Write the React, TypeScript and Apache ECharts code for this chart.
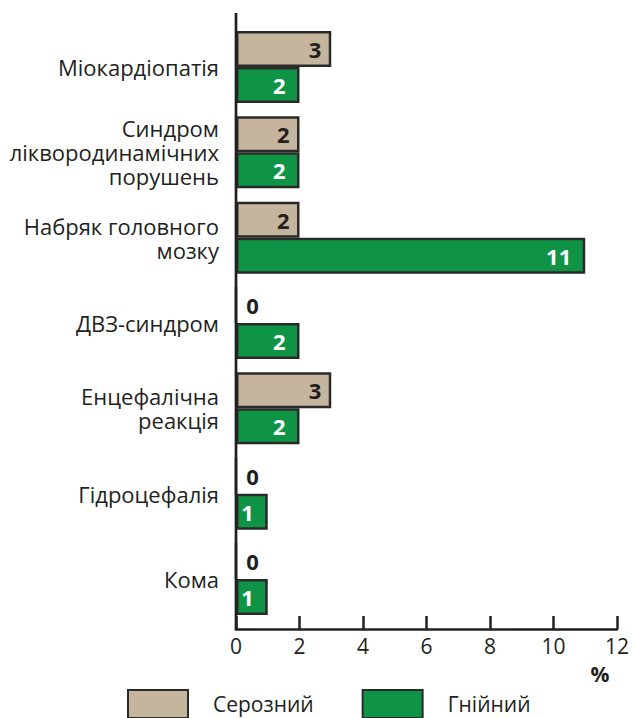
import React, { useEffect, useRef } from "react";
import * as echarts from "echarts";

const categories = [
  "Міокардіопатія",
  "Синдром\nліквородинамічних\nпорушень",
  "Набряк головного\nмозку",
  "ДВЗ-синдром",
  "Енцефалічна\nреакція",
  "Гідроцефалія",
  "Кома",
];
const serousValues = [3, 2, 2, 0, 3, 0, 0];
const purulentValues = [2, 2, 11, 2, 2, 1, 1];
const seriesNames = ["Серозний", "Гнійний"];
const xTicks = { min: 0, max: 12, interval: 2 };

const INK = "#231f20";
const TAN = "#c5b59c";
const GREEN = "#0f9446";
const FONT = "'Open Sans', 'Noto Sans', sans-serif";

export default function App() {
  const ref = useRef<HTMLDivElement>(null);

  useEffect(() => {
    if (!ref.current) return;
    const chart = echarts.init(ref.current, undefined, { renderer: "svg" });

    const border = { borderColor: "#2a2a2a", borderWidth: 2.5 };

    chart.setOption({
      animation: false,
      textStyle: { fontFamily: FONT },
      grid: { left: 236, right: 14, top: 24.3, bottom: 96.3, containLabel: false },
      legend: {
        left: 127,
        top: 689,
        padding: 0,
        itemWidth: 60,
        itemHeight: 28,
        itemGap: 48,
        icon: "rect",
        data: seriesNames,
        itemStyle: { borderColor: "#2a2a2a", borderWidth: 2 },
        textStyle: { fontSize: 21, lineHeight: 22, color: INK, fontFamily: FONT, padding: [0, 0, 0, 20] },
      },
      xAxis: {
        type: "value",
        min: xTicks.min,
        max: xTicks.max,
        interval: xTicks.interval,
        offset: 7.3,
        axisLine: { show: true, lineStyle: { color: INK, width: 2.5 } },
        axisTick: { show: true, inside: true, length: 13, lineStyle: { color: INK, width: 2.5 } },
        axisLabel: { fontSize: 21, color: INK, margin: 6, fontFamily: FONT },
        splitLine: { show: false },
      },
      yAxis: {
        type: "category",
        inverse: true,
        data: categories,
        axisLine: { show: false },
        axisTick: { show: false },
        axisLabel: {
          fontSize: 22,
          lineHeight: 24,
          color: INK,
          margin: 17,
          align: "right",
          fontFamily: FONT,
        },
      },
      series: [
        {
          name: seriesNames[0],
          type: "bar",
          barWidth: 36,
          barGap: "0%",
          itemStyle: { color: TAN, ...border },
          label: {
            show: true,
            position: "insideRight",
            distance: 10,
            fontSize: 22,
            fontWeight: "bold",
            color: INK,
            fontFamily: FONT,
          },
          data: serousValues.map((v) =>
            v === 0
              ? { value: v, label: { position: "right", distance: 9 } }
              : v
          ),
        },
        {
          name: seriesNames[1],
          type: "bar",
          barWidth: 36,
          barGap: "0%",
          itemStyle: { color: GREEN, ...border },
          label: {
            show: true,
            position: "insideRight",
            distance: 14,
            fontSize: 22,
            fontWeight: "bold",
            color: "#ffffff",
            fontFamily: FONT,
          },
          data: purulentValues,
        },
      ],
      graphic: [
        {
          type: "line",
          z: 100,
          shape: { x1: 236, y1: 13, x2: 236, y2: 630 },
          style: { stroke: INK, lineWidth: 2.7 },
        },
        {
          type: "text",
          z: 100,
          x: 600,
          y: 674,
          style: {
            text: "%",
            fontSize: 21,
            fontWeight: "bold",
            fill: INK,
            fontFamily: FONT,
            align: "center",
            verticalAlign: "middle",
          },
        },
      ],
    });

    return () => chart.dispose();
  }, []);

  return (
    <div
      ref={ref}
      style={{ position: "fixed", left: 0, top: 0, width: 632, height: 718, background: "#fff" }}
    />
  );
}
